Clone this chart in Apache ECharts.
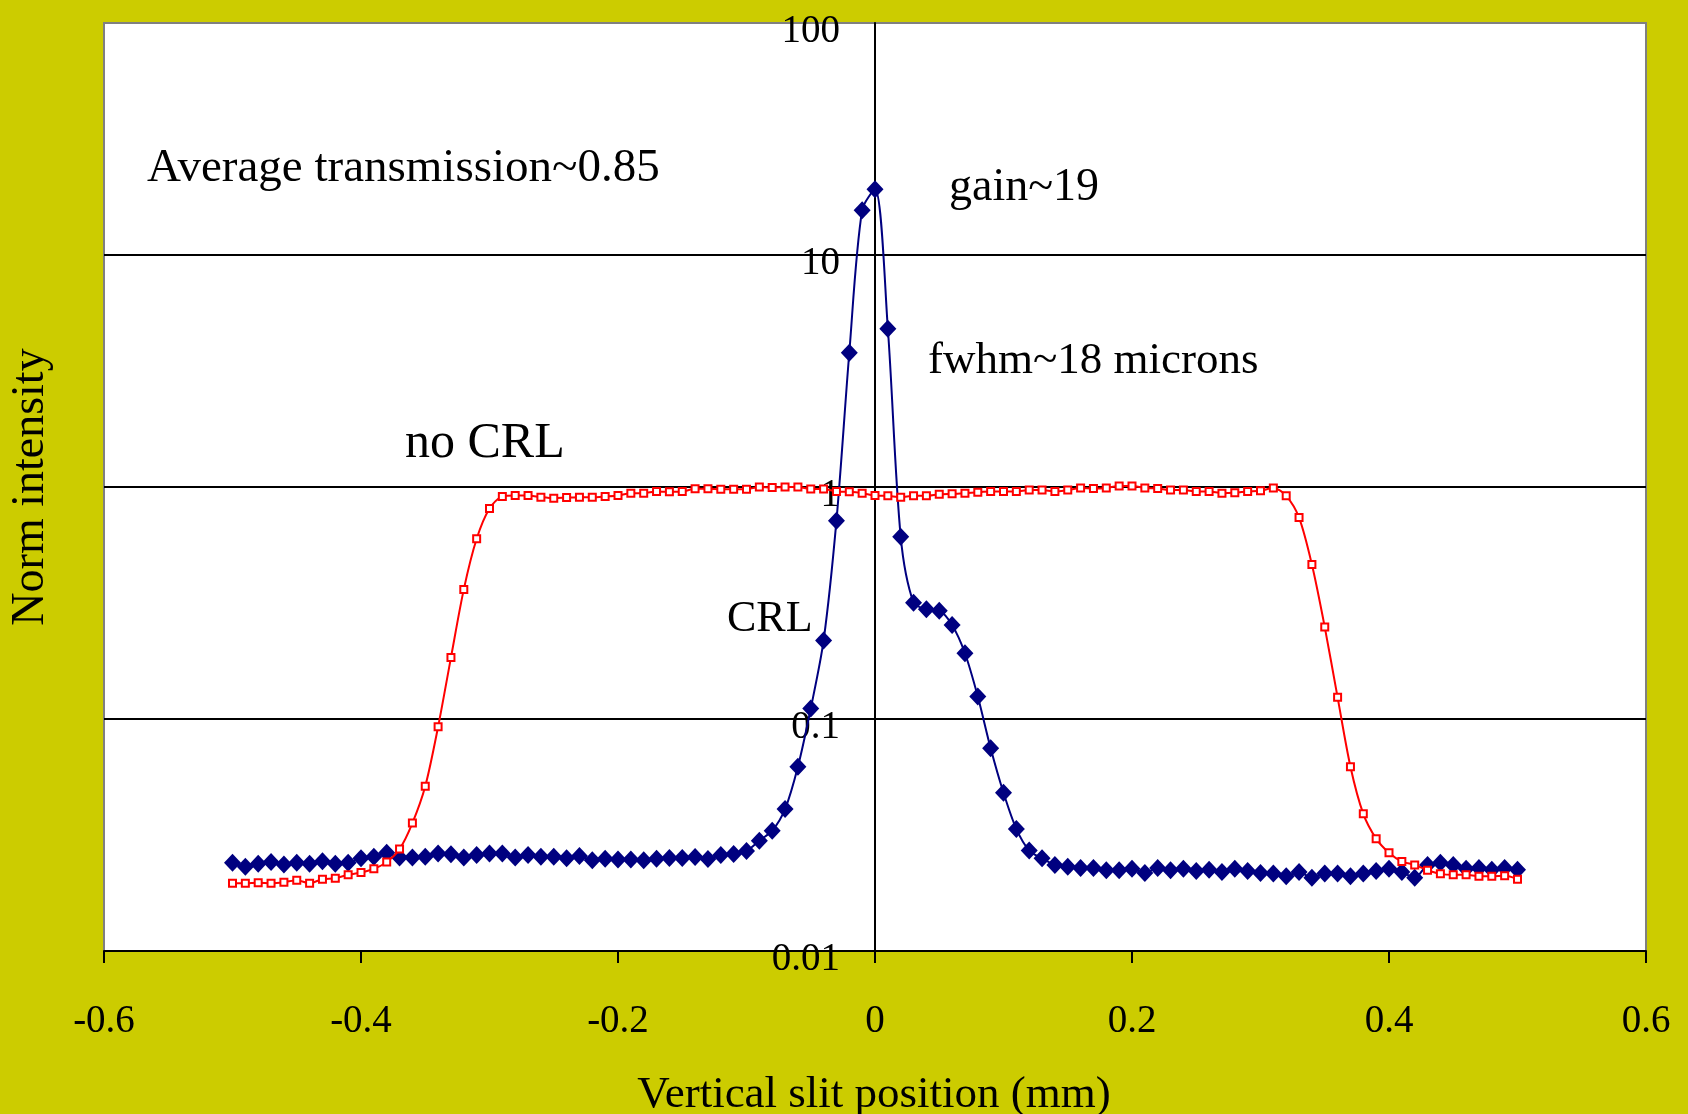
<!DOCTYPE html>
<html>
<head>
<meta charset="utf-8">
<title>CRL focusing scan</title>
<script src="https://cdn.jsdelivr.net/npm/echarts@6/dist/echarts.min.js"></script>
<style>
  html, body { margin: 0; padding: 0; background: #cccc00; }
  #chart { width: 1688px; height: 1114px; }
</style>
</head>
<body>
<div id="chart"></div>
<script>
// slit positions (mm), same for both scans
var slitPos = [
  -0.50, -0.49, -0.48, -0.47, -0.46, -0.45, -0.44, -0.43, -0.42, -0.41,
  -0.40, -0.39, -0.38, -0.37, -0.36, -0.35, -0.34, -0.33, -0.32, -0.31,
  -0.30, -0.29, -0.28, -0.27, -0.26, -0.25, -0.24, -0.23, -0.22, -0.21,
  -0.20, -0.19, -0.18, -0.17, -0.16, -0.15, -0.14, -0.13, -0.12, -0.11,
  -0.10, -0.09, -0.08, -0.07, -0.06, -0.05, -0.04, -0.03, -0.02, -0.01,
  0.00, 0.01, 0.02, 0.03, 0.04, 0.05, 0.06, 0.07, 0.08, 0.09,
  0.10, 0.11, 0.12, 0.13, 0.14, 0.15, 0.16, 0.17, 0.18, 0.19,
  0.20, 0.21, 0.22, 0.23, 0.24, 0.25, 0.26, 0.27, 0.28, 0.29,
  0.30, 0.31, 0.32, 0.33, 0.34, 0.35, 0.36, 0.37, 0.38, 0.39,
  0.40, 0.41, 0.42, 0.43, 0.44, 0.45, 0.46, 0.47, 0.48, 0.49,
  0.50
];

// with lens
var crlValues = [
  0.0240, 0.0231, 0.0238, 0.0242, 0.0236, 0.0240, 0.0238, 0.0244, 0.0238, 0.0240,
  0.0251, 0.0255, 0.0265, 0.0253, 0.0253, 0.0255, 0.0263, 0.0261, 0.0253, 0.0259,
  0.0263, 0.0263, 0.0253, 0.0259, 0.0255, 0.0255, 0.0251, 0.0257, 0.0246, 0.0250,
  0.0248, 0.0248, 0.0246, 0.0250, 0.0252, 0.0252, 0.0254, 0.0249, 0.0259, 0.0262,
  0.0270, 0.0299, 0.0330, 0.0409, 0.0623, 0.111, 0.218, 0.716, 3.79, 15.6,
  19.2, 4.81, 0.611, 0.317, 0.297, 0.293, 0.254, 0.192, 0.125, 0.0748,
  0.0481, 0.0336, 0.0271, 0.0251, 0.0235, 0.0231, 0.0228, 0.0228, 0.0223, 0.0223,
  0.0226, 0.0217, 0.0228, 0.0223, 0.0226, 0.0221, 0.0224, 0.0219, 0.0226, 0.0221,
  0.0217, 0.0216, 0.0210, 0.0219, 0.0207, 0.0216, 0.0216, 0.0210, 0.0216, 0.0221,
  0.0226, 0.0219, 0.0207, 0.0235, 0.0240, 0.0235, 0.0226, 0.0228, 0.0224, 0.0228,
  0.0224
];

// without lens
var noCrlValues = [
  0.0196, 0.0196, 0.0197, 0.0196, 0.0198, 0.0202, 0.0196, 0.0204, 0.0206, 0.0213,
  0.0218, 0.0226, 0.0242, 0.0275, 0.0356, 0.0513, 0.0926, 0.184, 0.362, 0.598,
  0.808, 0.910, 0.919, 0.919, 0.904, 0.895, 0.900, 0.904, 0.904, 0.910,
  0.919, 0.941, 0.941, 0.956, 0.953, 0.956, 0.982, 0.982, 0.978, 0.978,
  0.978, 1.00, 0.995, 1.00, 1.00, 0.980, 0.980, 0.956, 0.953, 0.941,
  0.919, 0.916, 0.904, 0.916, 0.916, 0.930, 0.935, 0.941, 0.950, 0.956,
  0.956, 0.956, 0.970, 0.970, 0.956, 0.970, 0.990, 0.985, 0.990, 1.01,
  1.01, 0.990, 0.985, 0.970, 0.970, 0.956, 0.956, 0.941, 0.945, 0.956,
  0.963, 0.990, 0.916, 0.738, 0.463, 0.249, 0.124, 0.0623, 0.0390, 0.0305,
  0.0265, 0.0243, 0.0235, 0.0223, 0.0215, 0.0213, 0.0213, 0.0210, 0.0210, 0.0211,
  0.0204
];

var yTickLabels = ["0.01", "0.1", "1", "10", "100"];

function pairs(xs, ys) {
  return xs.map(function (x, i) { return [x, ys[i]]; });
}

var serif = "'Liberation Serif', 'Times New Roman', serif";

// plot box in page pixels
var gridLeft = 104, gridTop = 23, gridRight = 42, gridBottom = 163;
var plotWidth = 1688 - gridLeft - gridRight;

function note(text, x, y, size) {
  return {
    type: "text", x: x, y: y,
    style: { text: text, font: size + "px " + serif, fill: "#000", align: "left", verticalAlign: "middle" }
  };
}

var chart = echarts.init(document.getElementById("chart"));

var option = {
  backgroundColor: "#cccc00",
  animation: false,
  grid: {
    left: gridLeft,
    top: gridTop,
    right: gridRight,
    bottom: gridBottom,
    outerBoundsMode: "none",
    show: true,
    backgroundColor: "#ffffff",
    borderColor: "#808080",
    borderWidth: 2
  },
  xAxis: {
    type: "value",
    min: -0.6,
    max: 0.6,
    interval: 0.2,
    axisLine: { onZero: false, lineStyle: { color: "#000", width: 2 } },
    axisTick: { show: true, inside: false, length: 12, lineStyle: { color: "#000", width: 2 } },
    axisLabel: {
      margin: 51,
      fontFamily: serif,
      fontSize: 39,
      color: "#000",
      formatter: function (v) {
        return Math.abs(v) < 1e-9 ? "0" : String(Math.round(v * 10) / 10);
      }
    },
    splitLine: { show: false }
  },
  yAxis: {
    type: "log",
    logBase: 10,
    min: 0.01,
    max: 100,
    position: "left",
    // y axis sits at x = 0, in the middle of the plot
    offset: -plotWidth / 2,
    axisLine: { onZero: false, lineStyle: { color: "#000", width: 2 } },
    axisTick: { show: false },
    axisLabel: {
      margin: 35,
      fontFamily: serif,
      fontSize: 39,
      color: "#000",
      verticalAlign: "top",
      lineHeight: 17,
      formatter: function (v) {
        var idx = Math.round(Math.log(v) / Math.LN10) + 2;
        return yTickLabels[idx];
      }
    },
    splitLine: {
      show: true,
      showMaxLine: false,
      lineStyle: { color: "#000", width: 2 }
    }
  },
  series: [
    {
      name: "CRL",
      type: "line",
      data: pairs(slitPos, crlValues),
      smooth: 0.3,
      symbol: "diamond",
      symbolSize: [17, 18],
      lineStyle: { color: "#000080", width: 2 },
      itemStyle: { color: "#000080", borderWidth: 0 },
      z: 2
    },
    {
      name: "no CRL",
      type: "line",
      data: pairs(slitPos, noCrlValues),
      smooth: 0.3,
      symbol: "rect",
      symbolSize: 7,
      lineStyle: { color: "#ff0000", width: 2 },
      itemStyle: { color: "#ffffff", borderColor: "#ff0000", borderWidth: 2 },
      z: 3
    }
  ],
  graphic: [
    {
      type: "text", x: 31, y: 487, rotation: Math.PI / 2,
      style: { text: "Norm intensity", font: "46px " + serif, fill: "#000", align: "center", verticalAlign: "middle" }
    },
    {
      type: "text", x: 874, y: 1095,
      style: { text: "Vertical slit position (mm)", font: "45px " + serif, fill: "#000", align: "center", verticalAlign: "middle" }
    },
    note("Average transmission~0.85", 147, 169, 47),
    note("gain~19", 949, 188, 46),
    note("fwhm~18 microns", 928, 361, 45),
    note("no CRL", 405, 444, 50),
    note("CRL", 727, 619, 44)
  ]
};

chart.setOption(option);
</script>
</body>
</html>
